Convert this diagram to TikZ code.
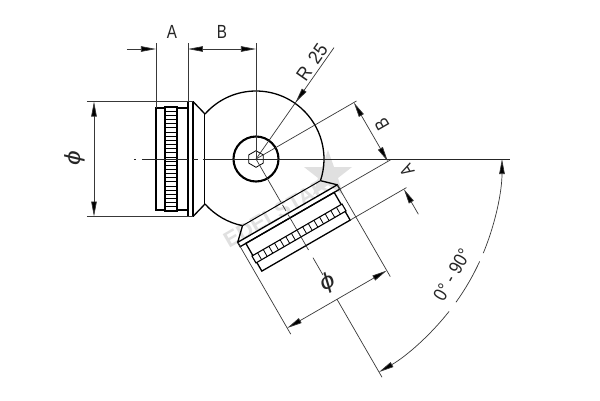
\documentclass[tikz,border=0pt]{standalone}
\usepackage{fontspec}
\setmainfont{Liberation Sans}
\usetikzlibrary{arrows.meta}
\definecolor{thinink}{gray}{0.22}
\definecolor{markgray}{gray}{0.88}
\tikzset{
  thickline/.style={line width=1.3pt,black,line join=miter},
  thinline/.style={line width=0.7pt,thinink},
  centerline/.style={line width=0.85pt,black!85},
  tipstyle/.tip={Triangle[length=15pt,width=5.5pt,fill=black]},
  dimarrow/.style={thinline,-tipstyle},
  dimboth/.style={thinline,tipstyle-tipstyle},
  dimlabel/.style={inner sep=0pt,font=\fontsize{19}{19}\selectfont,xscale=0.8,black!85},
  dialabel/.style={inner sep=0pt,font=\fontsize{22}{22}\selectfont\itshape,xscale=1.2,black!85},
  x=1pt,y=1pt
}
\newcommand{\jointshape}[3]{%
  % body
  \draw[thickline] (-100,51) rectangle (-68,-51);
  \draw[thickline] (-68,57.5) rectangle (-63,-57.5);
  \draw[thickline] (-63,57.5) -- (-51,45) (-63,-57.5) -- (-51,-45);
  \draw[line width=1pt,black] (-51,45) -- (-51,-45);
  % knurl
  \draw[line width=1.1pt,black,fill=white] (#1,-52) -- (#1,52) -- (#2,52) -- (#2,-52) -- cycle;
  \foreach \k in {1,...,#3}{
    \draw[line width=0.8pt,black] (#1,{-52+104*\k/(#3+1)}) -- (#2,{-52+104*\k/(#3+1)});
  }
}
\begin{document}
\begin{tikzpicture}
\useasboundingbox[fill=white] (-256,-241) rectangle (344,159);
% watermark
\fill[markgray] (72,9) -- (78,-8) -- (96,-8) -- (82,-19) -- (87,-36) -- (72,-26) -- (57,-36) -- (62,-19) -- (48,-8) -- (66,-8) -- cycle;
\node[rotate=30,text=markgray,font=\fontsize{22}{22}\selectfont\bfseries,inner sep=0pt] (mark) at (20,-54) {EDELSTAR};
% sphere
\draw[thickline] (138.6:68) arc[start angle=138.6,end angle=-18.6,radius=68];
\draw[thickline] (221.4:68) arc[start angle=221.4,end angle=258.6,radius=68];
\draw[line width=2.1pt,black] (0,0) circle[radius=22.5];
\draw[line width=0.8pt,black] (90:8.3) -- (150:8.3) -- (210:8.3) -- (270:8.3) -- (330:8.3) -- (30:8.3) -- cycle;
% the two end caps
\jointshape{-91}{-79}{24}
\begin{scope}[rotate=120]
  \jointshape{-90}{-82}{15}
\end{scope}
% centre lines
\coordinate (o) at (0,0);
\draw[centerline] (-122,0) -- (-120,0) (-114,0) -- (-68,0) (-63,0) -- (-58,0) (-53,0) -- (254,0);
\draw[thinline] (o) -- (-60:50) (-60:53) -- (-60:60) (-60:64) -- (-60:105) (-60:114) -- (-60:134);
\coordinate (axisend) at (-60:252);
\coordinate (axisdim) at (-60:162);
\draw[thinline] (axisdim) -- (axisend);
% left dimensions
\draw[thinline] (-100,116) -- (-100,51) (-68,116) -- (-68,57.5) (0,116) -- (o);
\draw[thinline] (-169,57.5) -- (-63,57.5) (-169,-57.5) -- (-63,-57.5);
\draw[dimarrow] (-129,110) -- (-100,110);
\draw[dimboth] (-68,110) -- (0,110);
\draw[dimboth] (-162,57.5) -- (-162,-57.5);
\node[dimlabel] (la) at (-84,127) {A};
\node[dimlabel] (lb) at (-34,127) {B};
\node[rotate=90,dialabel] (lphi) at (-181,1) {\symbol{"03D5}};
% rotated dimensions
\begin{scope}[rotate=120]
  \draw[thinline] (-100,-116) -- (-100,-51) (-68,-116) -- (-68,-57.5) (0,-116) -- (0,0);
  \draw[thinline] (-169,57.5) -- (-63,57.5) (-169,-57.5) -- (-63,-57.5);
  \draw[dimarrow] (-129,-113) -- (-100,-113);
  \draw[dimboth] (-68,-113) -- (0,-113);
  \draw[dimboth] (-162,57.5) -- (-162,-57.5);
\end{scope}
\node[rotate=120,dimlabel] (ra) at (151,-11) {A};
\node[rotate=120,dimlabel] (rb) at (126,35) {B};
\node[rotate=30,dialabel] (rphi) at (72,-124) {\symbol{"03D5}};
% radius
\coordinate (rend) at (55:136);
\draw[thinline] (o) -- (rend);
\draw[dimarrow] (55:84) -- (55:69);
\node[rotate=55,dimlabel,xscale=1.15] (r25) at (56,97) {R\hspace{3pt} 25};
% angle
\draw[thinline] (-35.6:246) arc[start angle=-35.6,end angle=-24.6,radius=246];
\draw[dimarrow] (-38.3:246) arc[start angle=-38.3,end angle=-60,radius=246];
\draw[dimarrow] (-22.5:246) arc[start angle=-22.5,end angle=0,radius=246];
\node[rotate=60,dimlabel,xscale=1.1] (ang) at (196,-116) {0° - 90°};
\end{tikzpicture}
\end{document}
